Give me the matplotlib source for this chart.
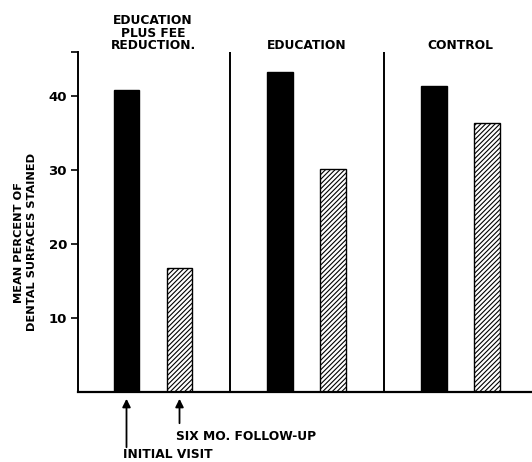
import matplotlib
matplotlib.use('Agg')
import matplotlib.pyplot as plt

# data
groups = ['EDUCATION\nPLUS FEE\nREDUCTION.', 'EDUCATION', 'CONTROL']
initial_visit = [40.8, 43.2, 41.3]
six_month = [16.8, 30.2, 36.3]
y_ticks = [10, 20, 30, 40]

plt.rcParams['font.family'] = 'DejaVu Sans'
plt.rcParams['font.weight'] = 'bold'
plt.rcParams['hatch.linewidth'] = 0.8

fig = plt.figure(figsize=(5.32, 4.62), dpi=100)
ax = fig.add_axes([78 / 532, 1 - 392 / 462, 1 - 78 / 532, (392 - 51.6) / 462])

group_step = 2.9
bar_w = 0.49
pos_init = [i * group_step for i in range(len(groups))]
pos_six = [p + 1 for p in pos_init]

ax.bar(pos_init, initial_visit, width=bar_w, color='black', edgecolor='black')
ax.bar(pos_six, six_month, width=bar_w, color='white', edgecolor='black',
       hatch='///////', linewidth=1.0)

# vertical dividers between groups
for i in range(len(groups) - 1):
    ax.axvline((pos_six[i] + pos_init[i + 1]) / 2, color='black', lw=1.4)

# group titles
for i, g in enumerate(groups):
    ax.text((pos_init[i] + pos_six[i]) / 2, 45.9, g, ha='center', va='bottom',
            fontsize=8.8, fontweight='bold', linespacing=0.95)

ax.set_xlim(-0.915, 7.65)
ax.set_ylim(0, 46)
ax.set_yticks(y_ticks + [46])
ax.set_yticklabels([str(t) for t in y_ticks] + [''])
ax.set_xticks([])
ax.tick_params(axis='y', length=5, width=1.2, labelsize=9.5, pad=3)
for lab in ax.get_yticklabels():
    lab.set_fontweight('bold')

ax.spines[['top', 'right']].set_visible(False)
ax.spines['left'].set_linewidth(1.4)
ax.spines['bottom'].set_linewidth(1.6)

ax.set_ylabel('MEAN PERCENT OF\nDENTAL SURFACES STAINED', fontsize=8.2,
              fontweight='bold', linespacing=1.35)
ax.yaxis.set_label_coords(-0.09, 0.44)

# arrows pointing at the first pair of bars
ax.annotate('', xy=(pos_init[0], 1 - 396 / 462), xycoords=('data', 'figure fraction'),
            xytext=(pos_init[0], 1 - 450 / 462), textcoords=('data', 'figure fraction'),
            arrowprops=dict(arrowstyle='-|>', color='black', lw=1.3, mutation_scale=12))
ax.annotate('', xy=(pos_six[0], 1 - 396 / 462), xycoords=('data', 'figure fraction'),
            xytext=(pos_six[0], 1 - 426 / 462), textcoords=('data', 'figure fraction'),
            arrowprops=dict(arrowstyle='-|>', color='black', lw=1.3, mutation_scale=12))
fig.text(176 / 532, 1 - 437 / 462, 'SIX MO. FOLLOW-UP', ha='left', va='center',
         fontsize=8.8, fontweight='bold')
fig.text(123 / 532, 1 - 455 / 462, 'INITIAL VISIT', ha='left', va='center',
         fontsize=8.8, fontweight='bold')

fig.savefig('out.png', dpi=100)
